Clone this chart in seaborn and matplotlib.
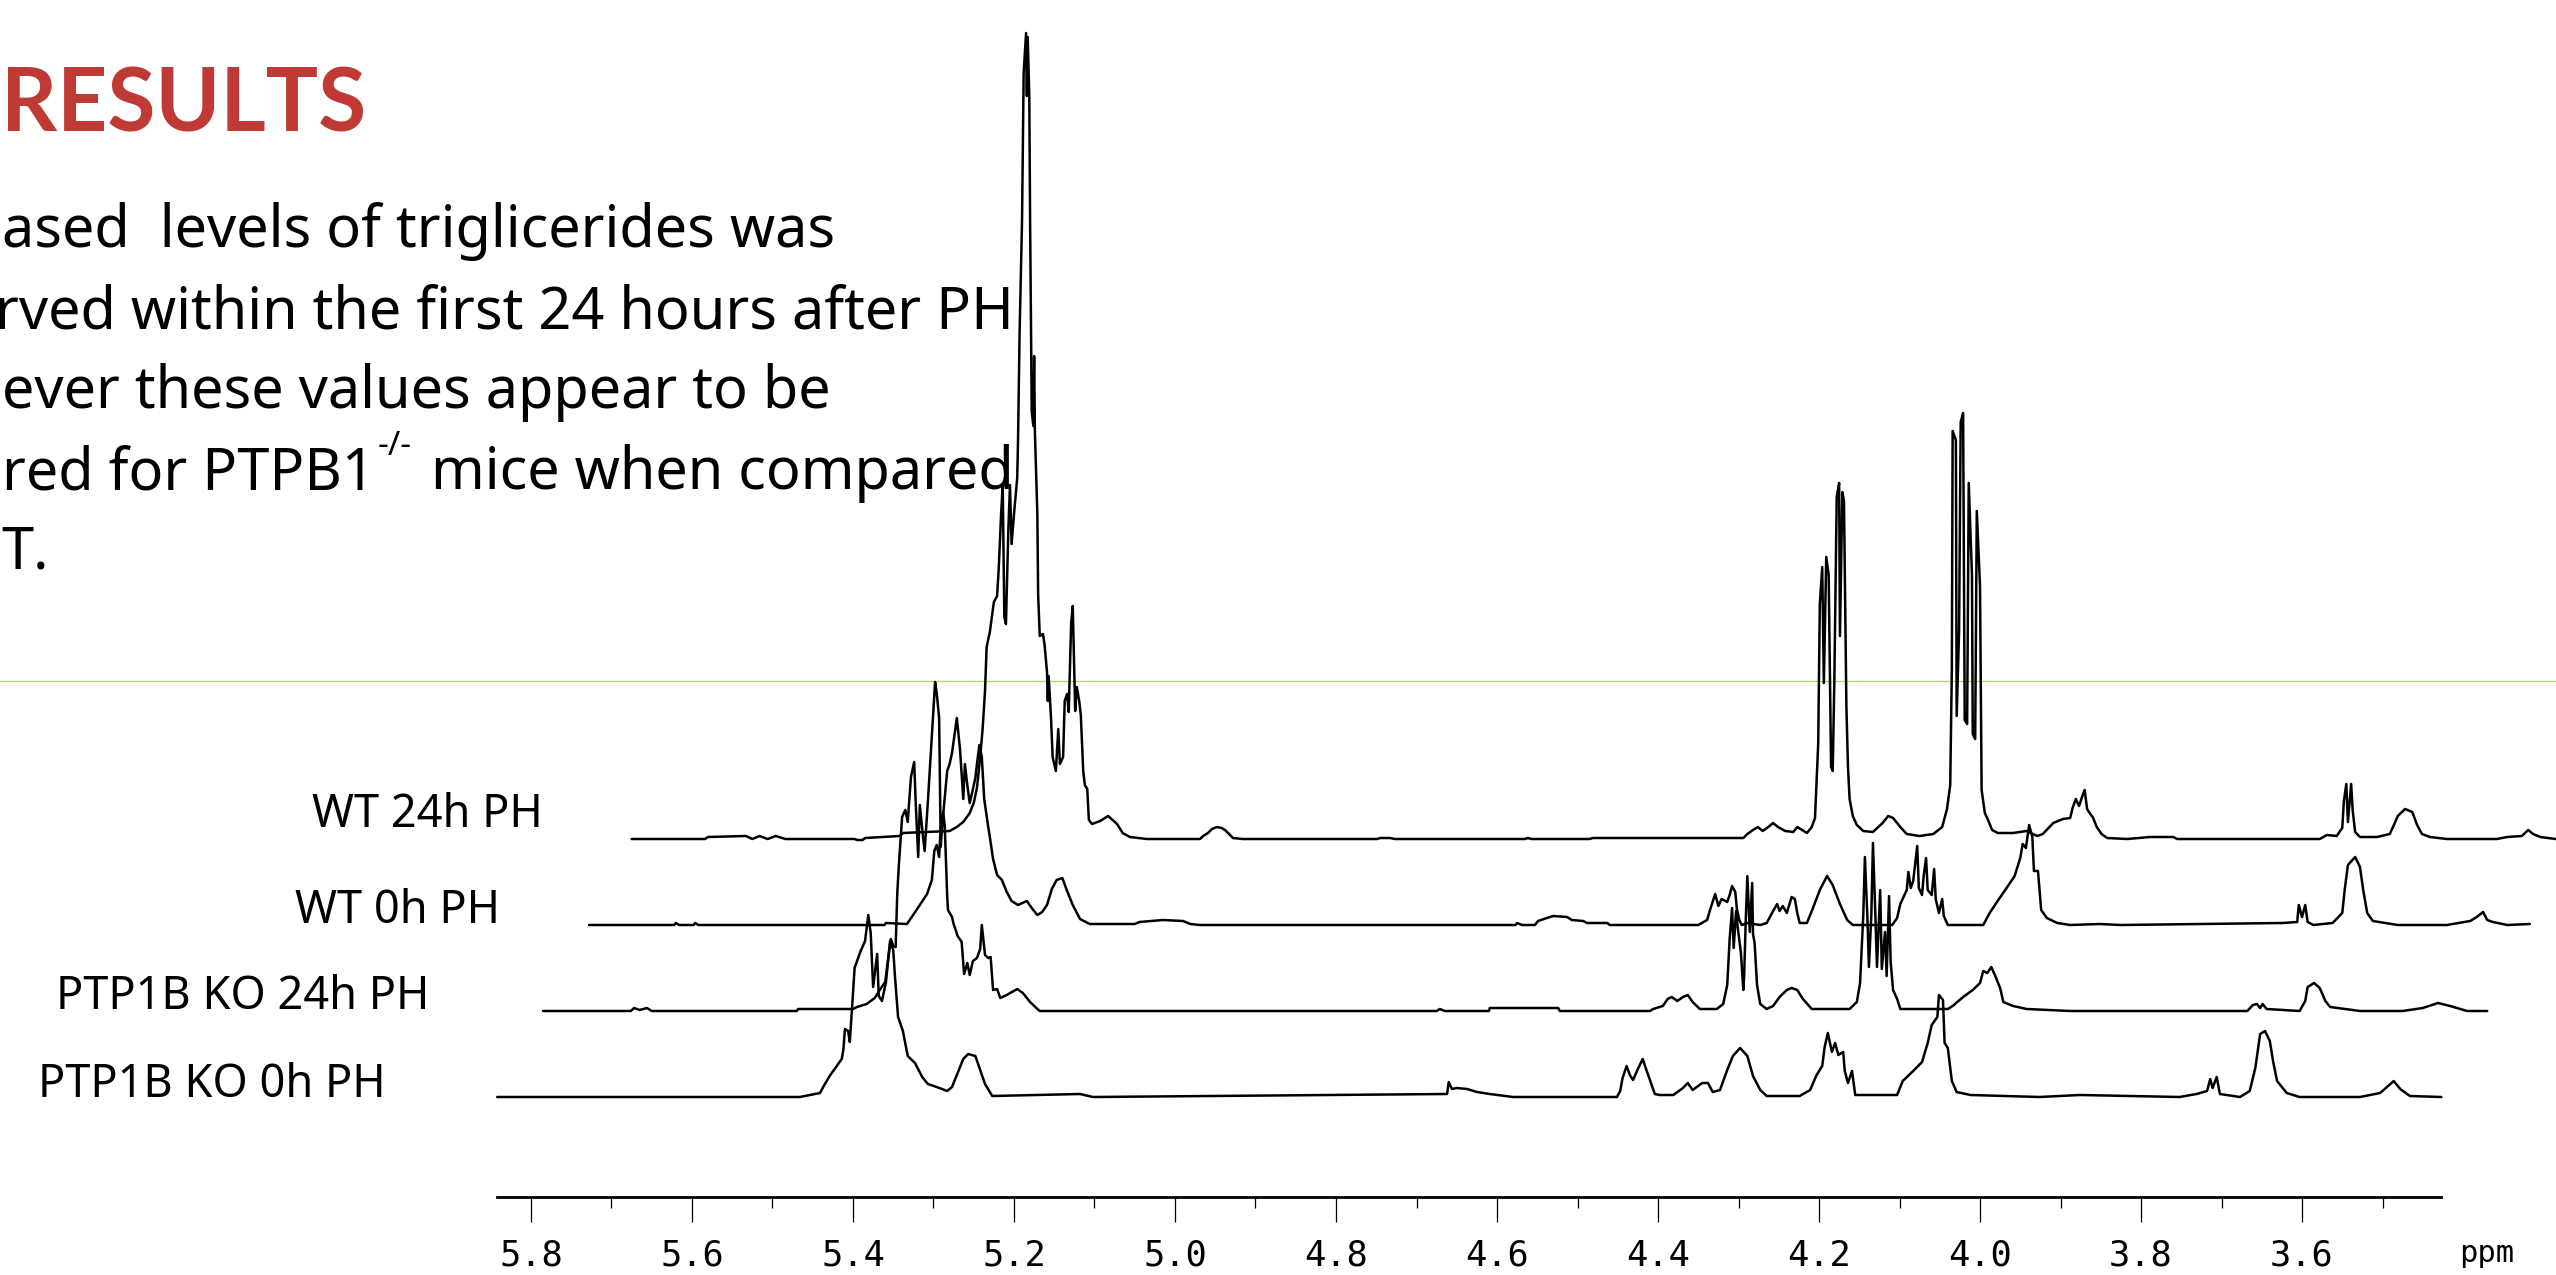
import matplotlib
matplotlib.use("Agg")
import matplotlib.pyplot as plt
import numpy as np
import pandas as pd
import seaborn as sns

# ---------------- data (ppm position as seen on the axis, intensity above own baseline) ----------
ko_0h = [
    (5.842, 0), (5.466, 0), (5.441, 4), (5.437, 10), (5.429, 21), (5.422, 29), (5.414, 38),
    (5.412, 47), (5.410, 68), (5.406, 66), (5.404, 55), (5.401, 91), (5.398, 129), (5.391, 145),
    (5.385, 156), (5.381, 182), (5.378, 164), (5.375, 110), (5.370, 143), (5.368, 101),
    (5.364, 96), (5.359, 115), (5.354, 156), (5.350, 147), (5.348, 122), (5.344, 80),
    (5.338, 66), (5.332, 41), (5.323, 34), (5.314, 20), (5.307, 13), (5.296, 10), (5.283, 6),
    (5.277, 10), (5.270, 24), (5.263, 38), (5.257, 43), (5.248, 41), (5.242, 27), (5.236, 13),
    (5.227, 1), (5.118, 3), (5.102, 0), (4.662, 3), (4.660, 15), (4.656, 8), (4.650, 9),
    (4.637, 8), (4.625, 5), (4.609, 3), (4.580, 0), (4.451, 0), (4.447, 6), (4.444, 19),
    (4.439, 31), (4.435, 22), (4.431, 17), (4.425, 28), (4.419, 38), (4.414, 26), (4.410, 17),
    (4.404, 3), (4.398, 2), (4.381, 2), (4.369, 9), (4.363, 14), (4.357, 7), (4.345, 14),
    (4.338, 14), (4.332, 5), (4.323, 7), (4.314, 27), (4.307, 41), (4.298, 49), (4.289, 41),
    (4.282, 21), (4.273, 7), (4.265, 1), (4.224, 1), (4.211, 7), (4.203, 22), (4.196, 31),
    (4.193, 50), (4.189, 64), (4.184, 45), (4.180, 54), (4.176, 42), (4.170, 45), (4.168, 26),
    (4.164, 14), (4.159, 26), (4.155, 2), (4.103, 2), (4.096, 16), (4.083, 26), (4.072, 35),
    (4.065, 54), (4.060, 72), (4.053, 80), (4.051, 102), (4.046, 97), (4.044, 54), (4.040, 49),
    (4.035, 16), (4.029, 5), (4.012, 2), (3.926, 0), (3.876, 2), (3.752, 0), (3.731, 3),
    (3.718, 6), (3.714, 18), (3.711, 9), (3.706, 20), (3.702, 3), (3.677, 0), (3.665, 6),
    (3.658, 29), (3.652, 63), (3.646, 66), (3.640, 56), (3.636, 36), (3.631, 16), (3.619, 4),
    (3.603, 0), (3.528, 0), (3.503, 4), (3.493, 11), (3.486, 16), (3.478, 8), (3.466, 1),
    (3.427, 0),
]

ko_24h = [
    (5.785, 0), (5.676, 0), (5.672, 3), (5.665, 1), (5.656, 3), (5.650, 0), (5.470, 0),
    (5.468, 2), (5.400, 2), (5.395, 4), (5.383, 7), (5.373, 13), (5.366, 22), (5.360, 29),
    (5.357, 48), (5.353, 72), (5.350, 65), (5.347, 64), (5.345, 118), (5.343, 146),
    (5.339, 194), (5.335, 201), (5.332, 189), (5.328, 234), (5.324, 249), (5.322, 206),
    (5.319, 154), (5.317, 206), (5.313, 174), (5.311, 160), (5.307, 209), (5.302, 276),
    (5.298, 329), (5.296, 318), (5.293, 293), (5.291, 164), (5.288, 199), (5.286, 185),
    (5.283, 115), (5.282, 101), (5.277, 94), (5.275, 87), (5.270, 75), (5.265, 69),
    (5.262, 37), (5.258, 48), (5.255, 36), (5.251, 50), (5.246, 53), (5.242, 62), (5.240, 86),
    (5.236, 56), (5.232, 53), (5.229, 54), (5.226, 21), (5.221, 22), (5.217, 13), (5.209, 16),
    (5.196, 22), (5.189, 18), (5.180, 9), (5.171, 2), (5.168, 0), (4.675, 0), (4.671, 2),
    (4.665, 0), (4.610, 0), (4.609, 3), (4.524, 3), (4.522, 0), (4.410, 0), (4.406, 2),
    (4.394, 5), (4.388, 12), (4.383, 14), (4.376, 10), (4.369, 14), (4.363, 16), (4.357, 9),
    (4.348, 2), (4.327, 2), (4.319, 7), (4.314, 26), (4.311, 72), (4.308, 103), (4.306, 63),
    (4.303, 100), (4.301, 84), (4.297, 58), (4.294, 21), (4.293, 35), (4.291, 91),
    (4.289, 135), (4.286, 79), (4.283, 128), (4.282, 77), (4.280, 68), (4.277, 26),
    (4.273, 7), (4.265, 2), (4.257, 5), (4.249, 14), (4.240, 21), (4.234, 23), (4.227, 21),
    (4.220, 12), (4.209, 2), (4.162, 2), (4.153, 9), (4.149, 28), (4.145, 96), (4.143, 154),
    (4.140, 96), (4.138, 44), (4.135, 96), (4.133, 168), (4.130, 96), (4.128, 44),
    (4.124, 121), (4.122, 42), (4.118, 79), (4.116, 35), (4.113, 115), (4.111, 49),
    (4.108, 21), (4.103, 12), (4.099, 2), (4.040, 2), (4.034, 5), (4.021, 14), (4.009, 21),
    (4.000, 28), (3.996, 40), (3.991, 38), (3.986, 44), (3.981, 35), (3.975, 23), (3.971, 9),
    (3.959, 5), (3.942, 2), (3.888, 0), (3.668, 0), (3.661, 6), (3.656, 7), (3.652, 3),
    (3.649, 7), (3.644, 2), (3.603, 0), (3.596, 10), (3.593, 24), (3.585, 28), (3.578, 23),
    (3.571, 10), (3.565, 4), (3.528, 0), (3.475, 0), (3.450, 3), (3.431, 8), (3.416, 5),
    (3.395, 0), (3.370, 0),
]

wt_0h = [
    (5.728, 0), (5.622, 0), (5.620, 2), (5.616, 0), (5.598, 0), (5.596, 2), (5.592, 0),
    (5.361, 0), (5.359, 2), (5.333, 1), (5.327, 8), (5.317, 20), (5.308, 31), (5.302, 45),
    (5.299, 74), (5.296, 80), (5.293, 68), (5.291, 98), (5.288, 110), (5.283, 154),
    (5.280, 161), (5.277, 172), (5.271, 207), (5.267, 175), (5.263, 126), (5.261, 161),
    (5.258, 140), (5.255, 122), (5.251, 136), (5.248, 147), (5.246, 161), (5.243, 180),
    (5.240, 168), (5.237, 126), (5.232, 98), (5.230, 88), (5.226, 66), (5.221, 50),
    (5.215, 45), (5.209, 33), (5.203, 24), (5.195, 20), (5.184, 24), (5.178, 17), (5.171, 10),
    (5.165, 13), (5.159, 20), (5.153, 36), (5.147, 45), (5.140, 47), (5.134, 34), (5.127, 20),
    (5.118, 6), (5.106, 1), (5.050, 1), (5.044, 3), (5.015, 5), (4.990, 4), (4.981, 1),
    (4.969, 0), (4.577, 0), (4.575, 2), (4.569, 0), (4.553, 0), (4.549, 4), (4.538, 7),
    (4.530, 9), (4.513, 8), (4.507, 5), (4.493, 4), (4.488, 2), (4.463, 2), (4.460, 0),
    (4.350, 0), (4.339, 5), (4.335, 16), (4.329, 31), (4.325, 19), (4.321, 26), (4.314, 23),
    (4.311, 30), (4.308, 39), (4.304, 33), (4.302, 16), (4.299, 5), (4.296, 0), (4.289, 2),
    (4.273, 0), (4.265, 2), (4.257, 14), (4.252, 21), (4.249, 14), (4.245, 19), (4.240, 12),
    (4.234, 28), (4.230, 26), (4.227, 12), (4.224, 2), (4.215, 2), (4.208, 16), (4.199, 35),
    (4.190, 49), (4.183, 40), (4.174, 21), (4.165, 5), (4.158, 0), (4.109, 0), (4.103, 7),
    (4.099, 21), (4.091, 35), (4.089, 53), (4.086, 37), (4.083, 44), (4.078, 79), (4.076, 37),
    (4.072, 30), (4.070, 49), (4.067, 67), (4.065, 35), (4.060, 30), (4.057, 56), (4.055, 26),
    (4.051, 12), (4.047, 26), (4.045, 9), (4.040, 0), (3.996, 0), (3.988, 12), (3.979, 23),
    (3.967, 37), (3.957, 49), (3.950, 67), (3.947, 81), (3.943, 77), (3.939, 100),
    (3.935, 88), (3.933, 54), (3.928, 54), (3.924, 15), (3.917, 7), (3.904, 2), (3.888, 0),
    (3.851, 1), (3.826, 0), (3.624, 2), (3.606, 3), (3.604, 20), (3.600, 8), (3.596, 20),
    (3.593, 3), (3.586, 0), (3.562, 2), (3.550, 12), (3.547, 35), (3.543, 60), (3.534, 68),
    (3.528, 58), (3.524, 35), (3.519, 12), (3.512, 4), (3.481, 0), (3.420, 0), (3.391, 4),
    (3.383, 8), (3.375, 13), (3.370, 5), (3.363, 3), (3.345, 0), (3.317, 1),
]

wt_24h = [
    (5.675, 0), (5.584, 0), (5.580, 2), (5.533, 3), (5.525, 0), (5.516, 3), (5.506, 0),
    (5.496, 3), (5.484, 0), (5.398, 0), (5.395, -1), (5.388, -1), (5.385, 1), (5.342, 3),
    (5.338, 6), (5.280, 8), (5.271, 12), (5.263, 17), (5.255, 26), (5.250, 36), (5.246, 51),
    (5.242, 82), (5.239, 110), (5.236, 148), (5.234, 192), (5.230, 207), (5.225, 237),
    (5.221, 243), (5.219, 270), (5.216, 325), (5.214, 354), (5.212, 222), (5.210, 215),
    (5.207, 310), (5.205, 354), (5.203, 295), (5.200, 325), (5.196, 361), (5.195, 398),
    (5.193, 508), (5.190, 619), (5.189, 692), (5.188, 766), (5.185, 806), (5.184, 743),
    (5.183, 802), (5.181, 743), (5.180, 619), (5.178, 428), (5.176, 413), (5.175, 483),
    (5.174, 406), (5.171, 325), (5.170, 244), (5.168, 203), (5.164, 205), (5.162, 194),
    (5.159, 167), (5.158, 138), (5.157, 163), (5.154, 121), (5.152, 82), (5.148, 68),
    (5.145, 110), (5.143, 75), (5.139, 82), (5.137, 138), (5.134, 145), (5.132, 127),
    (5.129, 216), (5.127, 233), (5.124, 128), (5.122, 152), (5.119, 138), (5.117, 124),
    (5.114, 68), (5.112, 54), (5.109, 50), (5.107, 19), (5.103, 15), (5.093, 18), (5.083, 23),
    (5.072, 15), (5.065, 6), (5.056, 2), (5.035, 0), (4.969, 0), (4.965, 3), (4.959, 6),
    (4.954, 10), (4.948, 12), (4.942, 11), (4.938, 9), (4.934, 6), (4.928, 1), (4.916, 0),
    (4.749, 0), (4.745, 1), (4.733, 1), (4.727, 0), (4.565, 0), (4.562, 1), (4.557, 0),
    (4.485, 0), (4.481, 1), (4.294, 1), (4.289, 5), (4.282, 9), (4.276, 12), (4.270, 8),
    (4.263, 12), (4.257, 16), (4.251, 12), (4.242, 8), (4.232, 7), (4.227, 12), (4.221, 9),
    (4.215, 6), (4.209, 12), (4.205, 21), (4.201, 95), (4.199, 235), (4.196, 272),
    (4.194, 156), (4.191, 282), (4.188, 264), (4.185, 72), (4.183, 68), (4.181, 156),
    (4.178, 342), (4.175, 356), (4.174, 203), (4.171, 347), (4.169, 338), (4.166, 133),
    (4.164, 72), (4.162, 40), (4.158, 23), (4.153, 14), (4.145, 8), (4.133, 7), (4.121, 16),
    (4.114, 23), (4.108, 21), (4.099, 12), (4.091, 5), (4.075, 3), (4.058, 5), (4.047, 12),
    (4.041, 30), (4.037, 54), (4.035, 170), (4.034, 408), (4.030, 399), (4.029, 123),
    (4.026, 208), (4.024, 417), (4.021, 426), (4.019, 119), (4.016, 115), (4.014, 356),
    (4.010, 264), (4.009, 105), (4.006, 100), (4.004, 328), (4.000, 253), (3.998, 49),
    (3.994, 26), (3.990, 19), (3.985, 9), (3.978, 6), (3.959, 6), (3.942, 8), (3.929, 3),
    (3.922, 5), (3.909, 16), (3.897, 20), (3.888, 21), (3.885, 31), (3.881, 40), (3.877, 33),
    (3.872, 45), (3.870, 49), (3.867, 30), (3.863, 25), (3.860, 22), (3.855, 12), (3.849, 5),
    (3.842, 1), (3.817, 0), (3.789, 2), (3.760, 2), (3.755, 0), (3.578, 0), (3.569, 4),
    (3.557, 3), (3.550, 11), (3.548, 38), (3.545, 55), (3.543, 17), (3.539, 55), (3.537, 28),
    (3.534, 7), (3.528, 2), (3.507, 2), (3.491, 5), (3.487, 12), (3.481, 23), (3.472, 30),
    (3.463, 27), (3.457, 14), (3.451, 5), (3.441, 2), (3.420, 0), (3.358, 0), (3.345, 2),
    (3.327, 3), (3.319, 9), (3.313, 5), (3.304, 2), (3.285, 0), (3.261, 1),
]

sample_names = ["PTP1B KO 0h PH", "PTP1B KO 24h PH", "WT 0h PH", "WT 24h PH"]
spectra = [ko_0h, ko_24h, wt_0h, wt_24h]

major_ticks = [5.8, 5.6, 5.4, 5.2, 5.0, 4.8, 4.6, 4.4, 4.2, 4.0, 3.8, 3.6]
minor_ticks = [5.7, 5.5, 5.3, 5.1, 4.9, 4.7, 4.5, 4.3, 4.1, 3.9, 3.7, 3.5]
tick_labels = ["5.8", "5.6", "5.4", "5.2", "5.0", "4.8", "4.6", "4.4", "4.2", "4.0", "3.8", "3.6"]
axis_unit = "ppm"
axis_span = (5.842, 3.427)

# the slide text, as far as it is visible in the picture (its left part is cut by the slide edge)
title_text = "RESULTS"
body_lines = [
    "ased  levels of triglicerides was",
    "rved within the first 24 hours after PH",
    "ever these values appear to be",
]
line4_a, line4_sup, line4_b = "red for PTPB1", "-/-", "mice when compared"
line5 = "T."

# ---------------- layout --------------------------------------------------------------------------
W, H, DPI = 2556, 1275, 100
BASE, STEP = 178, 86          # stacked baselines (px from bottom)

sns.set_theme(style="white")
plt.rcParams["font.family"] = ["Noto Sans", "DejaVu Sans"]
plt.rcParams["text.color"] = "black"

rows = []
for k, (name, spec) in enumerate(zip(sample_names, spectra)):
    for ppm, h in spec:
        rows.append({"ppm": ppm, "y": BASE + k * STEP + h, "sample": name})
df = pd.DataFrame(rows)

fig = plt.figure(figsize=(W / DPI, H / DPI), dpi=DPI)
fig.patch.set_facecolor("white")
ax = fig.add_axes([0, 0, 1, 1])
ax.set_facecolor("none")

# thin green guide line
ax.axhline(H - 681, color="#a8d468", lw=0.9, zorder=1)

sns.lineplot(data=df, x="ppm", y="y", units="sample", estimator=None, sort=False,
             color="black", lw=1.8, ax=ax, legend=False, zorder=3)

ax.set_xlim(6.4596, 3.2845)
ax.set_ylim(0, H)
ax.set_xlabel("")
ax.set_ylabel("")

for s in ["left", "top", "right"]:
    ax.spines[s].set_visible(False)
ax.spines["bottom"].set_position(("data", H - 1197))
ax.spines["bottom"].set_bounds(*axis_span)
ax.spines["bottom"].set_linewidth(2.0)
ax.spines["bottom"].set_color("black")

ax.set_xticks(major_ticks)
ax.set_xticks(minor_ticks, minor=True)
ax.set_xticklabels(tick_labels, fontfamily="DejaVu Sans Mono", fontsize=25.5, color="black")
ax.tick_params(axis="x", which="major", bottom=True, direction="out", length=18,
               width=0.9, pad=12, colors="black")
ax.tick_params(axis="x", which="minor", bottom=True, direction="out", length=8,
               width=0.9, colors="black")
ax.set_yticks([])


def fx(x):
    return x / W


def fy(y):
    return 1 - y / H


fig.text(fx(2459), fy(1262), axis_unit, fontfamily="DejaVu Sans Mono", fontsize=22,
         va="baseline", ha="left", color="black")

# sample labels
label_pos = [(38, 1097), (56, 1009), (295, 923), (312, 827)]
for name, (lx, ly) in zip(sample_names, label_pos):
    fig.text(fx(lx), fy(ly), name, fontsize=32.5, va="baseline", ha="left", color="black")

# title + body text
fig.text(fx(1), fy(131), title_text, fontsize=63, fontweight="bold", color="#BF3A35",
         family=["Lato", "Open Sans", "DejaVu Sans"], va="baseline", ha="left")
fig.text(fx(835), fy(247), body_lines[0], fontsize=41.5, va="baseline", ha="right", color="black")
fig.text(fx(1014), fy(328), body_lines[1], fontsize=41.5, va="baseline", ha="right", color="black")
fig.text(fx(2), fy(408), body_lines[2], fontsize=41.5, va="baseline", ha="left", color="black")

t4a = fig.text(fx(2), fy(489), line4_a, fontsize=41.5, va="baseline", ha="left", color="black")
fig.canvas.draw()
bb = t4a.get_window_extent(renderer=fig.canvas.get_renderer())
sup_x = bb.x1 + 3
t4s = fig.text(fx(sup_x), fy(455), line4_sup, fontsize=24, va="baseline", ha="left",
               color="black")
fig.canvas.draw()
bbs = t4s.get_window_extent(renderer=fig.canvas.get_renderer())
mice_x = max(431, bbs.x1 + 18)
fig.text(fx(mice_x), fy(489), line4_b, fontsize=41.5, va="baseline", ha="left", color="black")
fig.text(fx(1), fy(568), line5, fontsize=41.5, va="baseline", ha="left", color="black")

fig.savefig("out.png", dpi=DPI, facecolor="white")
